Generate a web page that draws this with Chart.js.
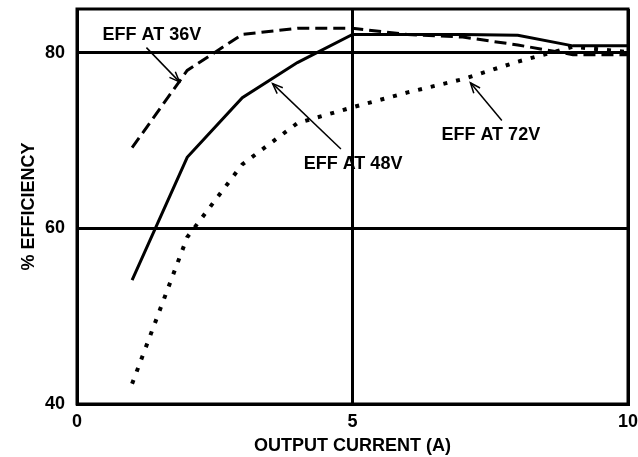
<!DOCTYPE html>
<html>
<head>
<meta charset="utf-8">
<script src="https://cdn.jsdelivr.net/npm/chart.js@4.4.1/dist/chart.umd.min.js"></script>
<style>
html,body{margin:0;padding:0;background:#fff;}
#wrap{width:638px;height:457px;position:relative;}
</style>
</head>
<body>
<div id="wrap"><canvas id="c" width="638" height="457"></canvas></div>
<script>
// Data
const current = [1, 2, 3, 4, 5, 6, 7, 8, 9, 10];
const eff36V = [69.2, 78.0, 82.1, 82.8, 82.8, 82.1, 81.8, 80.9, 79.8, 79.8];
const eff48V = [54.1, 68.1, 74.9, 78.9, 82.1, 82.1, 82.1, 82.0, 80.8, 80.8];
const eff72V = [42.3, 59.0, 67.3, 72.0, 73.8, 75.5, 77.0, 79.0, 80.7, 80.1];
const xTicks = [0, 5, 10];
const yTicks = [40, 60, 80];
const seriesNames = ["EFF AT 36V", "EFF AT 48V", "EFF AT 72V"];
// annotation label anchors and arrows in data units [textX, textY, fromX, fromY, tipX, tipY]
const labelPos36 = [1.36, 82.05, 1.26, 80.6, 1.86, 76.7];
const labelPos48 = [5.01, 67.3, 4.79, 69.06, 3.55, 76.5];
const labelPos72 = [7.51, 70.6, 7.71, 72.3, 7.14, 76.6];

const FONT = "'Liberation Sans', Arial, Helvetica, sans-serif";

function pts(ys){ return current.map((x,i)=>({x:x, y:ys[i]})); }

const framePlugin = {
  id: 'frame',
  afterDraw(chart){
    const {ctx, chartArea:a, scales} = chart;
    ctx.save();
    ctx.strokeStyle = '#000';
    ctx.lineWidth = 3;
    ctx.strokeRect(a.left, a.top, a.right - a.left, a.bottom - a.top);
    // annotations
    const xs = scales.x, ys = scales.y;
    const anns = [[seriesNames[0], labelPos36],[seriesNames[1], labelPos48],[seriesNames[2], labelPos72]];
    ctx.fillStyle = '#000';
    ctx.font = "bold 18px " + FONT;
    ctx.textAlign = 'center';
    ctx.textBaseline = 'middle';
    anns.forEach(([txt, p])=>{
      ctx.fillText(txt, xs.getPixelForValue(p[0]), ys.getPixelForValue(p[1]));
      const x1 = xs.getPixelForValue(p[2]), y1 = ys.getPixelForValue(p[3]);
      const x2 = xs.getPixelForValue(p[4]), y2 = ys.getPixelForValue(p[5]);
      ctx.lineWidth = 1.5;
      ctx.beginPath(); ctx.moveTo(x1,y1); ctx.lineTo(x2,y2); ctx.stroke();
      const ang = Math.atan2(y2-y1, x2-x1), L = 11, w = 0.38;
      ctx.beginPath();
      ctx.moveTo(x2 - L*Math.cos(ang-w), y2 - L*Math.sin(ang-w));
      ctx.lineTo(x2, y2);
      ctx.lineTo(x2 - L*Math.cos(ang+w), y2 - L*Math.sin(ang+w));
      ctx.stroke();
    });
    ctx.restore();
  }
};

new Chart(document.getElementById('c'), {
  type: 'line',
  data: {
    datasets: [
      { label: seriesNames[0], data: pts(eff36V), borderColor:'#000', borderWidth:3, borderDash:[12,6], pointRadius:0, tension:0, fill:false, borderCapStyle:'butt' },
      { label: seriesNames[1], data: pts(eff48V), borderColor:'#000', borderWidth:3, pointRadius:0, tension:0, fill:false },
      { label: seriesNames[2], data: pts(eff72V), borderColor:'#000', borderWidth:4, borderDash:[4,9], pointRadius:0, tension:0, fill:false, borderCapStyle:'butt' }
    ]
  },
  options: {
    responsive: false,
    animation: false,
    devicePixelRatio: 1,
    layout: { padding: { top: 9, right: 10, left: 0, bottom: 0 } },
    plugins: { legend: { display:false }, tooltip: { enabled:false } },
    scales: {
      x: {
        type: 'linear', min: 0, max: 10,
        afterBuildTicks(s){ s.ticks = xTicks.map(v=>({value:v})); },
        afterFit(s){ s.height = 53; s.paddingLeft = 0; s.paddingRight = 0; },
        grid: { color:'#000', lineWidth:3, drawTicks:false },
        border: { color:'#000', width:3 },
        ticks: { color:'#000', font:{ family:FONT, size:18, weight:'bold' }, padding:7, maxRotation:0 },
        title: { display:true, text:'OUTPUT CURRENT (A)', color:'#000', font:{ family:FONT, size:18, weight:'bold' }, padding:{top:0, bottom:0} }
      },
      y: {
        type: 'linear', min: 40, max: 85,
        afterBuildTicks(s){ s.ticks = yTicks.map(v=>({value:v})); },
        afterFit(s){ s.width = 77; s.paddingTop = 0; s.paddingBottom = 0; },
        grid: { color:'#000', lineWidth:3, drawTicks:false },
        border: { color:'#000', width:3 },
        ticks: { color:'#000', font:{ family:FONT, size:18, weight:'bold' }, padding:12 },
        title: { display:true, text:'% EFFICIENCY', color:'#000', font:{ family:FONT, size:18, weight:'bold' }, padding:{top:18, bottom:0} }
      }
    }
  },
  plugins: [framePlugin]
});
</script>
</body>
</html>
